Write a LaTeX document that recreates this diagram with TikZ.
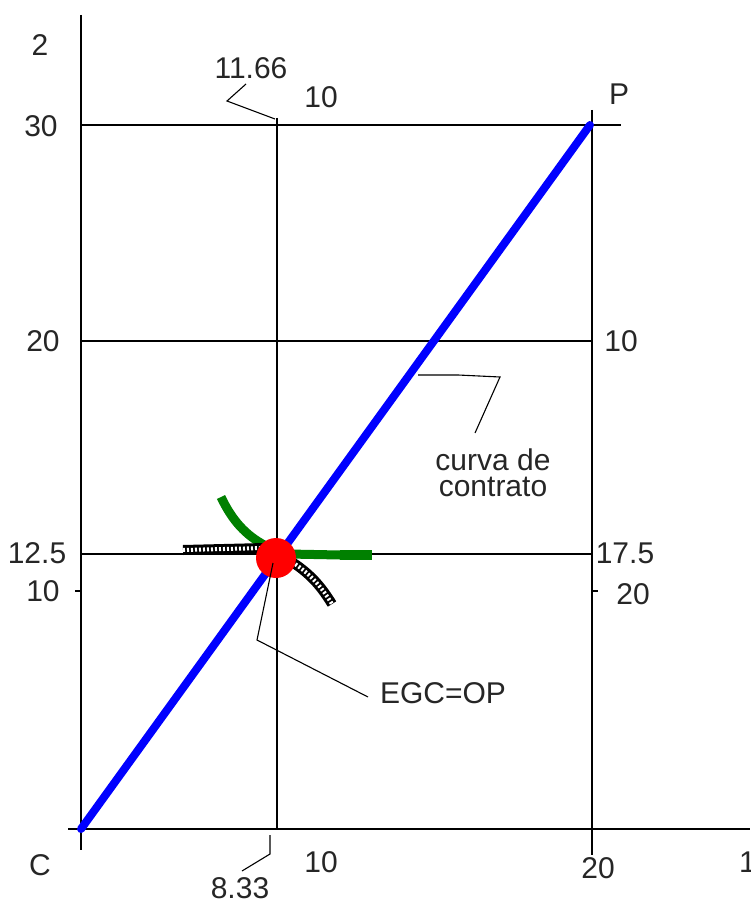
\documentclass[tikz,border=0pt]{standalone}
\usepackage{fontspec}
\setmainfont{Liberation Sans}
\begin{document}
\begin{tikzpicture}[x=1pt,y=-1pt,
  lbl/.style={font=\fontsize{30}{25}\selectfont, inner sep=0pt, text=black!85},
  gridline/.style={line width=1.6pt, black},
  lead/.style={line width=1.1pt, black},
  contract/.style={line width=8pt, blue, line cap=round},
  greencurve/.style={line width=9pt, green!50!black, line cap=butt},
  dotback/.style={line width=10pt, black},
  dotfront/.style={line width=4pt, white, dash pattern=on 2pt off 2pt}]
\useasboundingbox (0,0) rectangle (750,901);
% axes and grid coordinates
\coordinate (C) at (81,829);
\coordinate (P) at (590,125);
\coordinate (ltop) at (81,15);
\coordinate (lbot) at (81,850);
\coordinate (bl) at (68,829);
\coordinate (br) at (750,829);
\coordinate (rtop) at (592,110);
\coordinate (rbot) at (592,855);
\coordinate (t1) at (81,125);
\coordinate (t2) at (621,125);
\coordinate (m1) at (81,341);
\coordinate (m2) at (592,341);
\coordinate (e1) at (81,554);
\coordinate (e2) at (592,554);
\coordinate (vtop) at (277,118);
\coordinate (vbot) at (277,829);
\coordinate (tk1) at (75,591);
\coordinate (tk2) at (598,591);
% grid
\draw[gridline] (ltop) -- (lbot);
\draw[gridline] (bl) -- (br);
\draw[gridline] (rtop) -- (rbot);
\draw[gridline] (t1) -- (t2);
\draw[gridline] (m1) -- (m2);
\draw[gridline] (e1) -- (e2);
\draw[gridline] (vtop) -- (vbot);
\draw[gridline] (tk1) -- (81,591);
\draw[gridline] (592,591) -- (tk2);
% contract curve
\draw[contract] (C) -- (P);
% indifference curves
\coordinate (g1) at (221,497);
\coordinate (g2) at (266,546);
\coordinate (g3) at (288,554);
\coordinate (g4) at (372,555);
\draw[greencurve] (g1) .. controls (232,520) and (245,535) .. (g2);
\draw[greencurve] (g3) -- (340,555);
\draw[line width=10pt, green!50!black] (340,555) -- (g4);
\coordinate (d1) at (183,550);
\coordinate (d2) at (265,548);
\coordinate (d3) at (292,562);
\coordinate (d4) at (332,604);
\draw[dotback] (d1) -- (d2);
\draw[dotfront] (d1) -- (d2);
\draw[dotback] (d3) .. controls (312,575) and (322,588) .. (d4);
\draw[dotfront] (d3) .. controls (312,575) and (322,588) .. (d4);
% equilibrium point
\node[circle, fill=red, minimum size=40pt, inner sep=0pt] (E) at (276,558) {};
% labels
\node[lbl] (n2) at (40,45) {2};
\node[lbl] (n1166) at (251,68) {11.66};
\node[lbl] (n10t) at (321,97) {10};
\node[lbl] (nP) at (619,94) {P};
\node[lbl] (n30) at (41,126) {30};
\node[lbl] (n20l) at (43,341) {20};
\node[lbl] (n10r) at (621,341) {10};
\node[lbl] (ncc1) at (493,460) {curva de};
\node[lbl] (ncc2) at (493,487) {contrato};
\node[lbl] (n125) at (37,553) {12.5};
\node[lbl] (n10l) at (43,591) {10};
\node[lbl] (n175) at (625,553) {17.5};
\node[lbl] (n20r) at (633,594) {20};
\node[lbl] (negc) at (443,693) {EGC=OP};
\node[lbl] (nC) at (40,865) {C};
\node[lbl] (n10b) at (321,862) {10};
\node[lbl] (n833) at (240,888) {8.33};
\node[lbl] (n20b) at (598,868) {20};
\node[lbl, anchor=west] (n1b) at (739,862) {1};
% leaders
\coordinate (a1) at (246,84);
\coordinate (a2) at (227,101);
\coordinate (a3) at (275,119);
\draw[lead] (a1) -- (a2) -- (a3);
\coordinate (b1) at (270,835);
\coordinate (b2) at (270,854);
\coordinate (b3) at (242,871);
\draw[lead] (b1) -- (b2) -- (b3);
\coordinate (c1) at (418,375);
\coordinate (c2) at (458,375);
\coordinate (c3) at (500,377);
\coordinate (c4) at (475,433);
\draw[lead] (c1) -- (c2) -- (c3) -- (c4);
\coordinate (f1) at (273,563);
\coordinate (f2) at (257,640);
\coordinate (f3) at (368,697);
\draw[lead] (f1) -- (f2) -- (f3);
\end{tikzpicture}
\end{document}
